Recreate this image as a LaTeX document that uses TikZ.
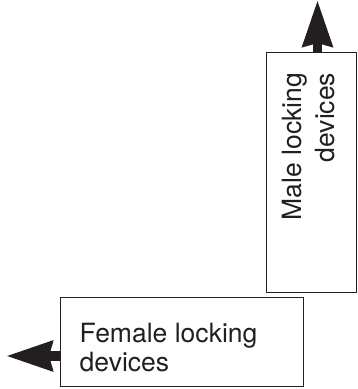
\documentclass[tikz,border=0pt]{standalone}
\usepackage{fontspec}
\setmainfont{TeX Gyre Heros}
\usetikzlibrary{arrows.meta, positioning}

\begin{document}
\begin{tikzpicture}[
    x=1pt, y=1pt,
    every node/.style={font=\fontsize{26.5}{29}\selectfont},
]

% ---------------------------------------------------------------- colours
\definecolor{ink}{HTML}{231F20}   % lines, arrows and text

\tikzset{
    devicebox/.style={draw=ink, line width=1pt, inner sep=0pt, fill=white},
    devicelabel/.style={text=ink, inner sep=0pt},
    bigarrow/.style={draw=ink, line width=9.5pt,
        -{Stealth[length=46pt, width=29pt, inset=3pt]}},
}

% ================================================================
% Two boxes, each pushing out along its own axis.
%   page       358 x 389, origin bottom left
%   male       tall box on the right, arrow up
%   female     wide box below it, arrow left
% ================================================================

\useasboundingbox (0,0) rectangle (358,389);

% the boxes
\node[devicebox, minimum width=90pt, minimum height=240pt] (male) at (311,216) {};
\node[devicebox, minimum width=243pt, minimum height=89pt] (female) at (181.5,46.5) {};

% free ends of the arrows
\coordinate (maletip) at (317.5,389);
\coordinate (femaletip) at (6,33);

\draw[bigarrow] (maletip |- male.north) -- (maletip);
\draw[bigarrow] (femaletip -| female.west) -- (femaletip);

% the texts
\node[devicelabel, rotate=90, align=right, font=\fontsize{26.5}{33}\selectfont] (maletext)
    at ([xshift=-2pt, yshift=26.5pt]male.center) {Male locking\\devices};
\node[devicelabel, align=left, anchor=west] (femaletext)
    at ([xshift=20pt, yshift=-5.5pt]female.west) {Female locking\\devices};

\end{tikzpicture}
\end{document}
